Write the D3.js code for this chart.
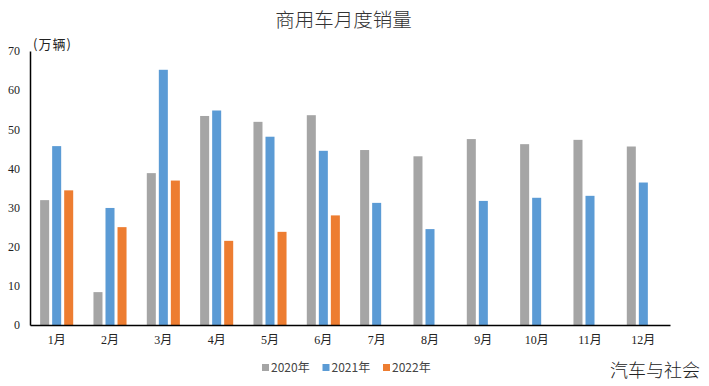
<!DOCTYPE html>
<html>
<head>
<meta charset="utf-8">
<script src="https://cdn.jsdelivr.net/npm/d3@7"></script>
<style>
  body { margin: 0; background: #fff; }
  svg { display: block; }
</style>
</head>
<body>
<div id="chart"></div>
<script>
// 月份与各年份销量（万辆）
const months = ['1月', '2月', '3月', '4月', '5月', '6月', '7月', '8月', '9月', '10月', '11月', '12月'];
const years = ['2020年', '2021年', '2022年'];
const sales2020 = [31.9, 8.4, 38.8, 53.4, 51.9, 53.6, 44.7, 43.1, 47.5, 46.2, 47.3, 45.6];
const sales2021 = [45.7, 29.9, 65.2, 54.8, 48.1, 44.5, 31.2, 24.5, 31.7, 32.5, 33.0, 36.4];
const sales2022 = [34.4, 25.0, 36.9, 21.5, 23.8, 28.0, null, null, null, null, null, null];
const yTicks = [0, 10, 20, 30, 40, 50, 60, 70];
const colors = ['#a5a5a5', '#5b9bd5', '#ed7d31'];

const width = 709;
const height = 386;
const margin = { top: 51, right: 39, bottom: 61, left: 30 };

const series = [sales2020, sales2021, sales2022];
const rows = months.map((m, i) => ({ month: m, values: series.map((s, k) => ({ key: years[k], value: s[i] })) }));

const svg = d3.select('#chart').append('svg')
  .attr('width', width)
  .attr('height', height);

const x0 = d3.scaleBand()
  .domain(months)
  .range([margin.left, width - margin.right])
  .paddingInner(0.38)
  .paddingOuter(0.19);

const x1 = d3.scaleBand()
  .domain(years)
  .range([0, x0.bandwidth()])
  .paddingInner(0.25);

const y = d3.scaleLinear()
  .domain([0, 70])
  .range([height - margin.bottom, margin.top]);

// 标题
svg.append('text')
  .attr('x', 343.5)
  .attr('y', 27)
  .attr('text-anchor', 'middle')
  .attr('font-family', '"Noto Sans CJK SC", sans-serif')
  .attr('font-size', 19.5)
  .attr('font-weight', 300)
  .attr('fill', '#333')
  .text('商用车月度销量');

// 单位
svg.append('text')
  .attr('x', 33)
  .attr('y', 49)
  .attr('font-family', '"Noto Sans CJK SC", sans-serif')
  .attr('font-size', 13)
  .attr('letter-spacing', 1)
  .attr('fill', '#222')
  .text('(万辆)');

// 柱子
const groups = svg.append('g')
  .selectAll('g')
  .data(rows)
  .join('g')
  .attr('transform', d => `translate(${x0(d.month)},0)`);

groups.selectAll('rect')
  .data(d => d.values.filter(v => v.value != null))
  .join('rect')
  .attr('x', d => x1(d.key))
  .attr('y', d => y(d.value))
  .attr('width', x1.bandwidth())
  .attr('height', d => y(0) - y(d.value))
  .attr('fill', d => colors[years.indexOf(d.key)]);

// y 轴
const yAxis = svg.append('g')
  .attr('transform', `translate(${margin.left},0)`)
  .call(d3.axisLeft(y).tickValues(yTicks).tickSize(0).tickPadding(10));
yAxis.select('.domain').attr('stroke', '#000').attr('stroke-width', 1.5);
yAxis.selectAll('text')
  .attr('font-family', '"Liberation Serif", serif')
  .attr('font-size', 12)
  .attr('fill', '#222');

// x 轴
const xAxis = svg.append('g')
  .attr('transform', `translate(0,${height - margin.bottom})`)
  .call(d3.axisBottom(x0).tickSize(0).tickPadding(10).tickSizeOuter(0));
xAxis.select('.domain').attr('stroke', '#000').attr('stroke-width', 1.5);
xAxis.selectAll('text')
  .attr('font-family', '"Liberation Serif", "Noto Sans CJK SC", serif')
  .attr('font-size', 12)
  .attr('fill', '#222');

// 图例
const legend = svg.append('g')
  .attr('transform', 'translate(262,368)');
const legendX = d3.scalePoint().domain(years).range([0, 121]);
const item = legend.selectAll('g')
  .data(years)
  .join('g')
  .attr('transform', d => `translate(${legendX(d)},0)`);
item.append('rect')
  .attr('x', 0)
  .attr('y', -4)
  .attr('width', 7)
  .attr('height', 7)
  .attr('fill', (d, i) => colors[i]);
item.append('text')
  .attr('x', 9)
  .attr('y', 4)
  .attr('font-family', '"Noto Sans CJK SC", sans-serif')
  .attr('font-size', 12)
  .attr('fill', '#444')
  .text(d => d);

// 水印
svg.append('text')
  .attr('x', 700)
  .attr('y', 377)
  .attr('text-anchor', 'end')
  .attr('font-family', '"Noto Sans CJK SC", sans-serif')
  .attr('font-size', 18)
  .attr('font-weight', 300)
  .attr('fill', '#222')
  .text('汽车与社会');
</script>
</body>
</html>
